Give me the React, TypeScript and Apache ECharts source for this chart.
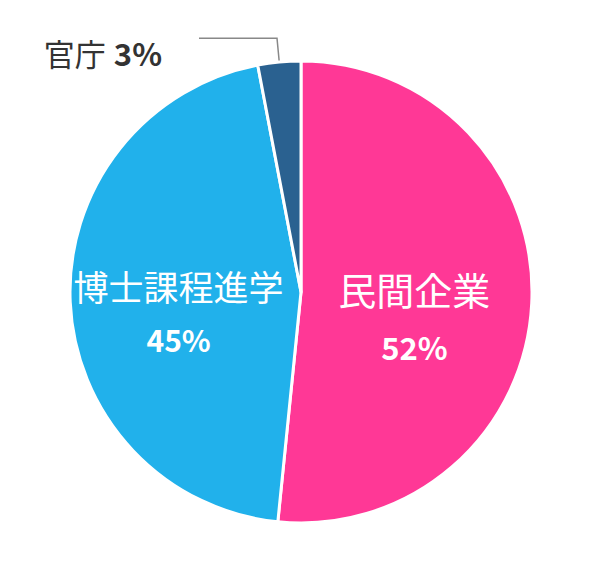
import React, { useEffect, useRef } from "react";
import * as echarts from "echarts";

const categories = ["民間企業", "博士課程進学", "官庁"];
const values = [51.6, 45.4, 3.0];
const percentLabels = ["52%", "45%", "3%"];
const colors = ["#FF3896", "#21B1EB", "#2A6190"];

const FONT = '"Noto Sans CJK JP", "Noto Sans", sans-serif';

export default function App() {
  const ref = useRef<HTMLDivElement>(null);
  useEffect(() => {
    if (!ref.current) return;
    const chart = echarts.init(ref.current, null, { renderer: "svg" });
    const data = categories.map((name, i) => {
      const item: any = {
        name,
        value: values[i],
        itemStyle: { color: colors[i] },
      };
      if (i === 0) {
        item.label = {
          position: "inside",
          offset: [-5, 20],
          formatter: `{n|${name}}\n{p|${percentLabels[i]}}`,
          rich: {
            n: { fontSize: 38, color: "#fff", fontFamily: FONT, lineHeight: 58 },
            p: { fontSize: 31, color: "#fff", fontWeight: "bold", fontFamily: FONT, lineHeight: 58 },
          },
        };
      } else if (i === 1) {
        item.label = {
          position: "inside",
          offset: [-4, 15],
          formatter: `{n|${name}}\n{p|${percentLabels[i]}}`,
          rich: {
            n: { fontSize: 35, color: "#fff", fontFamily: FONT, lineHeight: 53 },
            p: { fontSize: 30, color: "#fff", fontWeight: "bold", fontFamily: FONT, lineHeight: 53 },
          },
        };
      } else {
        item.label = {
          position: "outside",
          formatter: `{n|${name}}{p|${percentLabels[i]}}`,
          padding: [28, 32, 0, 0],
          rich: {
            n: { fontSize: 31, color: "#333", fontFamily: FONT },
            p: { fontSize: 31, color: "#333", fontWeight: "bold", fontFamily: FONT, padding: [0, 0, 0, 8] },
          },
        };
        item.labelLine = {
          show: true,
          length: 24,
          length2: 78,
          smooth: false,
          lineStyle: { color: "#888", width: 1.5 },
        };
      }
      return item;
    });
    chart.setOption({
      animation: false,
      backgroundColor: "#fff",
      series: [
        {
          type: "pie",
          center: [301, 292],
          radius: [0, 231],
          startAngle: 90,
          clockwise: true,
          avoidLabelOverlap: false,
          itemStyle: { borderColor: "#fff", borderWidth: 3 },
          label: { show: true, fontFamily: FONT },
          labelLine: { show: false },
          emphasis: { disabled: true },
          data,
        },
      ],
    });
    return () => chart.dispose();
  }, []);
  return (
    <div
      ref={ref}
      style={{ position: "absolute", left: 0, top: 0, width: 598, height: 572 }}
    />
  );
}
